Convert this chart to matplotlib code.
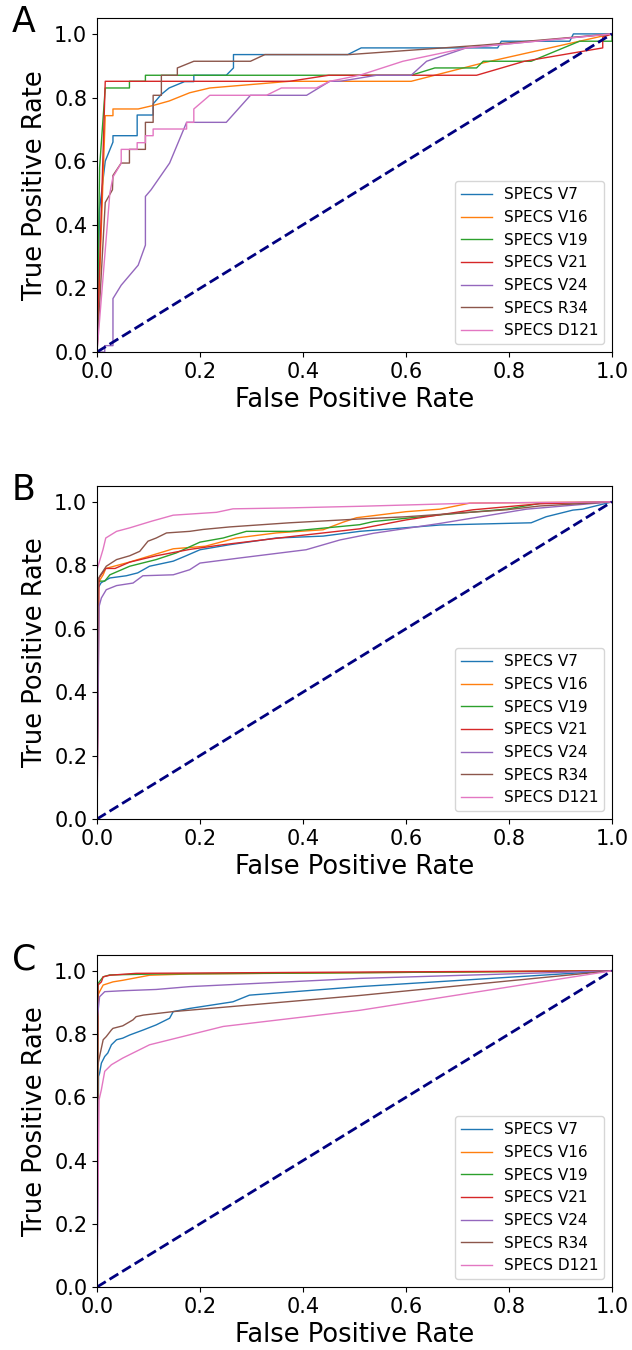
import matplotlib
matplotlib.use("Agg")
import matplotlib.pyplot as plt

# Series names, same order in every panel
LABELS = ["SPECS V7", "SPECS V16", "SPECS V19", "SPECS V21",
          "SPECS V24", "SPECS R34", "SPECS D121"]

# Panel A ROC points (fpr, tpr)
A_V7 = [(0, 0), (0.005, 0.45), (0.016, 0.6), (0.031, 0.66), (0.031, 0.68), (0.078, 0.68),
        (0.078, 0.745), (0.109, 0.745), (0.109, 0.78), (0.125, 0.81), (0.14, 0.83), (0.17, 0.85),
        (0.188, 0.85), (0.188, 0.87), (0.251, 0.87), (0.265, 0.893), (0.265, 0.935), (0.487, 0.935),
        (0.513, 0.956), (0.778, 0.956), (0.785, 0.977), (0.918, 0.977), (0.925, 1.0), (1, 1)]
A_V16 = [(0, 0), (0.016, 0.743), (0.031, 0.743), (0.031, 0.764), (0.08, 0.764), (0.109, 0.775),
         (0.14, 0.789), (0.18, 0.815), (0.219, 0.83), (0.374, 0.851), (0.61, 0.851), (0.75, 0.909),
         (0.937, 0.977), (1, 1)]
A_V19 = [(0, 0), (0.005, 0.58), (0.016, 0.83), (0.063, 0.83), (0.063, 0.851), (0.094, 0.851),
         (0.094, 0.87), (0.61, 0.87), (0.656, 0.893), (0.737, 0.893), (0.75, 0.914), (0.843, 0.914),
         (0.937, 0.977), (1.0, 0.977), (1, 1)]
A_V21 = [(0, 0), (0.016, 0.851), (0.374, 0.851), (0.45, 0.87), (0.737, 0.87), (0.83, 0.914),
         (0.982, 0.956), (0.982, 0.99), (1, 1)]
A_V24 = [(0, 0), (0.015, 0), (0.015, 0.02), (0.031, 0.02), (0.031, 0.168), (0.047, 0.21),
         (0.08, 0.273), (0.094, 0.336), (0.094, 0.489), (0.105, 0.51), (0.141, 0.594), (0.174, 0.722),
         (0.251, 0.722), (0.298, 0.807), (0.407, 0.807), (0.452, 0.851), (0.472, 0.851), (0.543, 0.87),
         (0.61, 0.87), (0.64, 0.914), (0.717, 0.956), (1, 1)]
A_R34 = [(0, 0), (0.016, 0.47), (0.03, 0.51), (0.031, 0.555), (0.047, 0.594), (0.063, 0.594),
         (0.063, 0.637), (0.094, 0.637), (0.094, 0.722), (0.109, 0.722), (0.109, 0.807), (0.125, 0.807),
         (0.125, 0.87), (0.156, 0.87), (0.156, 0.893), (0.188, 0.914), (0.298, 0.914), (0.326, 0.935),
         (0.49, 0.935), (0.75, 0.965), (1, 1)]
A_D121 = [(0, 0), (0.01, 0.2), (0.025, 0.5), (0.031, 0.55), (0.047, 0.594), (0.047, 0.637),
          (0.078, 0.637), (0.078, 0.658), (0.094, 0.658), (0.094, 0.68), (0.109, 0.68), (0.109, 0.701),
          (0.174, 0.701), (0.174, 0.722), (0.188, 0.722), (0.188, 0.764), (0.219, 0.807), (0.329, 0.807),
          (0.358, 0.83), (0.426, 0.83), (0.452, 0.851), (0.51, 0.87), (0.594, 0.914), (0.717, 0.956), (1, 1)]

# Panel B
B_V7 = [(0, 0), (0.002, 0.728), (0.008, 0.745), (0.025, 0.76), (0.057, 0.767), (0.079, 0.776),
        (0.102, 0.797), (0.148, 0.813), (0.173, 0.83), (0.2, 0.849), (0.258, 0.865), (0.348, 0.886),
        (0.439, 0.892), (0.51, 0.907), (0.666, 0.927), (0.843, 0.934), (0.872, 0.953), (0.924, 0.974),
        (0.943, 0.977), (1, 1)]
B_V16 = [(0, 0), (0.002, 0.744), (0.012, 0.77), (0.017, 0.79), (0.063, 0.81), (0.148, 0.852),
         (0.21, 0.86), (0.27, 0.886), (0.348, 0.902), (0.439, 0.912), (0.478, 0.936), (0.504, 0.95),
         (0.6, 0.969), (0.666, 0.977), (0.724, 0.996), (1, 1)]
B_V19 = [(0, 0), (0.002, 0.75), (0.015, 0.75), (0.025, 0.77), (0.0635, 0.797), (0.115, 0.818),
         (0.154, 0.839), (0.2, 0.873), (0.245, 0.886), (0.29, 0.907), (0.374, 0.907), (0.51, 0.928),
         (0.537, 0.938), (0.666, 0.959), (0.795, 0.977), (0.86, 0.995), (1, 1)]
B_V21 = [(0, 0), (0.004, 0.76), (0.008, 0.77), (0.017, 0.79), (0.035, 0.79), (0.0635, 0.81),
         (0.115, 0.83), (0.18, 0.85), (0.245, 0.865), (0.374, 0.89), (0.51, 0.915), (0.6, 0.943),
         (0.73, 0.975), (0.86, 0.994), (1, 1)]
B_V24 = [(0, 0), (0.004, 0.67), (0.0085, 0.697), (0.018, 0.723), (0.038, 0.736), (0.07, 0.744),
         (0.089, 0.767), (0.148, 0.77), (0.18, 0.786), (0.2, 0.807), (0.277, 0.823), (0.406, 0.849),
         (0.472, 0.88), (0.537, 0.901), (0.666, 0.932), (0.834, 0.977), (1, 1)]
B_R34 = [(0, 0), (0.002, 0.755), (0.005, 0.765), (0.018, 0.797), (0.038, 0.818), (0.0635, 0.83),
         (0.083, 0.844), (0.099, 0.876), (0.115, 0.886), (0.135, 0.902), (0.18, 0.907), (0.206, 0.913),
         (0.258, 0.921), (0.374, 0.934), (0.51, 0.946), (0.6, 0.953), (0.795, 0.975), (0.86, 0.987), (1, 1)]
B_D121 = [(0, 0), (0.0, 0.786), (0.0117, 0.85), (0.017, 0.886), (0.038, 0.907), (0.0635, 0.918),
          (0.106, 0.939), (0.148, 0.958), (0.232, 0.967), (0.264, 0.978), (0.374, 0.981), (0.51, 0.986),
          (0.73, 0.996), (1, 1)]

# Panel C
C_V7 = [(0, 0), (0.003, 0.666), (0.005, 0.676), (0.0085, 0.708), (0.015, 0.729), (0.021, 0.74),
        (0.028, 0.766), (0.038, 0.782), (0.05, 0.787), (0.0635, 0.797), (0.09, 0.813), (0.115, 0.829),
        (0.141, 0.85), (0.148, 0.871), (0.18, 0.881), (0.264, 0.902), (0.296, 0.923), (0.51, 0.95), (1, 1)]
C_V16 = [(0, 0), (0.002, 0.923), (0.005, 0.934), (0.012, 0.955), (0.031, 0.965), (0.05, 0.97),
         (0.076, 0.978), (0.102, 0.986), (0.18, 0.99), (0.51, 0.994), (1, 1)]
C_V19 = [(0, 0), (0.002, 0.96), (0.012, 0.981), (0.025, 0.987), (0.115, 0.99), (0.51, 0.994), (1, 1)]
C_V21 = [(0, 0), (0.002, 0.955), (0.0085, 0.965), (0.012, 0.981), (0.025, 0.986), (0.076, 0.992),
         (0.51, 0.996), (1, 1)]
C_V24 = [(0, 0), (0.001, 0.855), (0.005, 0.918), (0.015, 0.934), (0.05, 0.937), (0.115, 0.941),
         (0.18, 0.95), (0.51, 0.976), (1, 1)]
C_R34 = [(0, 0), (0.001, 0.697), (0.005, 0.729), (0.012, 0.782), (0.018, 0.792), (0.028, 0.813),
         (0.031, 0.818), (0.05, 0.826), (0.07, 0.845), (0.076, 0.855), (0.09, 0.86), (0.148, 0.871),
         (0.51, 0.922), (1, 1)]
C_D121 = [(0, 0), (0.004, 0.592), (0.0085, 0.624), (0.015, 0.682), (0.028, 0.703), (0.05, 0.724),
          (0.102, 0.766), (0.245, 0.824), (0.51, 0.875), (1, 1)]

PANELS = [
    ("A", [A_V7, A_V16, A_V19, A_V21, A_V24, A_R34, A_D121]),
    ("B", [B_V7, B_V16, B_V19, B_V21, B_V24, B_R34, B_D121]),
    ("C", [C_V7, C_V16, C_V19, C_V21, C_V24, C_R34, C_D121]),
]


def plot_roc(ax, curves):
    for pts, label in zip(curves, LABELS):
        fpr = [p[0] for p in pts]
        tpr = [p[1] for p in pts]
        ax.plot(fpr, tpr, lw=1, label=label)
    ax.plot([0, 1], [0, 1], color="navy", lw=2, linestyle="--")
    ax.set_xlim([0.0, 1.0])
    ax.set_ylim([0.0, 1.05])
    ax.set_xlabel("False Positive Rate", fontsize=18.5)
    ax.set_ylabel("True Positive Rate", fontsize=18.5)
    ax.tick_params(labelsize=15)
    ax.legend(loc="lower right", fontsize=11)


def main():
    fig = plt.figure(figsize=(6.32, 13.5), dpi=100)
    # axes boxes in figure pixels: (top, bottom)
    boxes = [(18, 352), (486, 819), (955, 1287)]
    W, H = 632, 1350
    for (letter, curves), (top, bottom) in zip(PANELS, boxes):
        ax = fig.add_axes([97 / W, 1 - bottom / H, 515 / W, (bottom - top) / H])
        plot_roc(ax, curves)
        fig.text(12 / W, 1 - (top + 4) / H, letter, fontsize=25, va="center", ha="left")
    fig.savefig("out.png", dpi=100)
    plt.close(fig)


if __name__ == "__main__":
    main()
